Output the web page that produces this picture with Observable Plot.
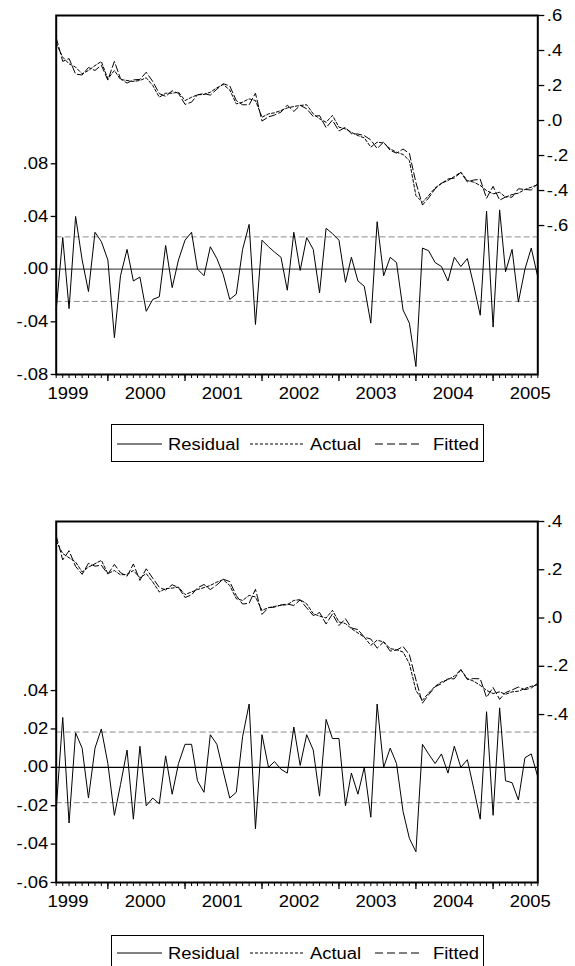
<!DOCTYPE html>
<html><head><meta charset="utf-8">
<script src="https://cdn.jsdelivr.net/npm/d3@7"></script>
<script src="https://cdn.jsdelivr.net/npm/@observablehq/plot@0.6"></script>
<style>
body{margin:0;background:#fff;}
#root{position:relative;width:575px;height:966px;overflow:hidden;font-family:"Liberation Sans",Arial,sans-serif;}
.layer{position:absolute;left:0;}
</style></head><body><div id="root"></div>
<script>
// Observations: monthly, 1999M05 .. 2005M08 (76 obs)
const periodStart = "1999-05-01", periodEnd = "2005-08-01";
const years = [1999, 2000, 2001, 2002, 2003, 2004, 2005];

// Panel 1
const resid1 = [
 -0.031,0.024,-0.030,0.040,0.007,-0.017,0.028,0.021,0.007,-0.052,
 -0.005,0.015,-0.009,-0.006,-0.032,-0.023,-0.021,0.018,-0.014,0.007,
 0.022,0.028,0.000,-0.005,0.017,0.008,-0.004,-0.023,-0.019,0.015,
 0.034,-0.042,0.022,0.017,0.013,0.009,-0.016,0.028,-0.001,0.024,
 0.015,-0.018,0.031,0.027,0.022,-0.010,0.009,-0.009,-0.013,-0.041,
 0.036,-0.005,0.009,0.005,-0.031,-0.041,-0.074,0.016,0.014,0.005,
 0.002,-0.009,0.009,0.002,0.008,-0.012,-0.035,0.044,-0.044,0.045,
 -0.002,0.015,-0.025,0.000,0.016,-0.006];
const actual1 = [
 0.442,0.362,0.324,0.305,0.267,0.286,0.314,0.337,0.238,0.286,
 0.234,0.229,0.223,0.229,0.244,0.200,0.133,0.156,0.156,0.162,
 0.114,0.133,0.147,0.149,0.162,0.187,0.206,0.175,0.095,0.105,
 0.124,0.114,0.019,0.038,0.044,0.057,0.072,0.080,0.086,0.090,
 0.038,0.010,-0.010,0.029,-0.038,-0.048,-0.067,-0.086,-0.099,-0.152,
 -0.124,-0.128,-0.162,-0.181,-0.194,-0.229,-0.429,-0.467,-0.429,-0.385,
 -0.358,-0.343,-0.320,-0.295,-0.343,-0.352,-0.371,-0.400,-0.419,-0.410,
 -0.438,-0.423,-0.415,-0.394,-0.381,-0.366];
const fitted1 = [
 0.473,0.338,0.354,0.265,0.260,0.303,0.286,0.316,0.231,0.338,
 0.239,0.214,0.232,0.235,0.276,0.223,0.154,0.138,0.170,0.155,
 0.092,0.105,0.147,0.154,0.145,0.179,0.210,0.198,0.114,0.090,
 0.090,0.156,-0.003,0.021,0.031,0.048,0.088,0.052,0.087,0.067,
 0.023,0.028,-0.041,0.002,-0.060,-0.038,-0.076,-0.077,-0.086,-0.111,
 -0.160,-0.123,-0.171,-0.186,-0.163,-0.188,-0.355,-0.483,-0.443,-0.390,
 -0.360,-0.334,-0.329,-0.297,-0.351,-0.340,-0.336,-0.444,-0.376,-0.455,
 -0.437,-0.438,-0.390,-0.394,-0.397,-0.360];
const band1 = 0.0245;
const leftTicks1 = [0.08, 0.04, 0, -0.04, -0.08];
const rightTicks1 = [0.6, 0.4, 0.2, 0, -0.2, -0.4, -0.6];

// Panel 2
const resid2 = [
 -0.022,0.026,-0.029,0.018,0.010,-0.016,0.010,0.020,0.002,-0.025,
 -0.009,0.009,-0.027,0.011,-0.020,-0.016,-0.019,0.006,-0.014,0.002,
 0.012,0.012,-0.007,-0.013,0.017,0.012,-0.002,-0.016,-0.013,0.016,
 0.033,-0.032,0.017,0.000,0.003,-0.001,-0.003,0.021,0.001,0.017,
 0.009,-0.015,0.025,0.015,0.015,-0.020,-0.003,-0.014,0.000,-0.026,
 0.033,0.000,0.010,0.002,-0.023,-0.037,-0.044,0.012,0.007,0.002,
 0.007,-0.003,0.011,0.000,0.004,-0.011,-0.027,0.029,-0.025,0.031,
 -0.007,-0.008,-0.017,0.005,0.007,-0.005];
const actual2 = [
 0.319,0.267,0.250,0.232,0.191,0.211,0.225,0.239,0.184,0.197,
 0.179,0.181,0.197,0.167,0.184,0.149,0.108,0.122,0.124,0.128,
 0.097,0.108,0.118,0.126,0.135,0.149,0.159,0.135,0.080,0.073,
 0.094,0.087,0.032,0.043,0.048,0.053,0.055,0.073,0.076,0.059,
 0.018,0.008,0.000,0.032,-0.016,-0.023,-0.044,-0.062,-0.079,-0.113,
 -0.092,-0.099,-0.127,-0.131,-0.141,-0.189,-0.300,-0.341,-0.311,-0.283,
 -0.265,-0.255,-0.241,-0.214,-0.251,-0.262,-0.279,-0.300,-0.313,-0.306,
 -0.316,-0.306,-0.303,-0.292,-0.283,-0.276];
const fitted2 = [
 0.341,0.241,0.279,0.214,0.181,0.227,0.215,0.219,0.182,0.222,
 0.188,0.173,0.224,0.156,0.204,0.165,0.127,0.116,0.138,0.126,
 0.085,0.096,0.125,0.139,0.118,0.137,0.161,0.151,0.093,0.058,
 0.061,0.119,0.015,0.043,0.045,0.054,0.058,0.052,0.075,0.042,
 0.010,0.023,-0.025,0.017,-0.031,-0.003,-0.041,-0.048,-0.079,-0.087,
 -0.125,-0.099,-0.137,-0.133,-0.118,-0.152,-0.256,-0.353,-0.318,-0.285,
 -0.272,-0.252,-0.252,-0.214,-0.255,-0.251,-0.252,-0.329,-0.288,-0.337,
 -0.309,-0.298,-0.286,-0.297,-0.290,-0.270];
const band2 = 0.0184;
const leftTicks2 = [0.04, 0.02, 0, -0.02, -0.04, -0.06];
const rightTicks2 = [0.4, 0.2, 0, -0.2, -0.4];

const legendLabels = ["Residual", "Actual", "Fitted"];

// ---------- rendering ----------
const FONT = '"Liberation Sans", Arial, sans-serif';
const FS = 16;          // font size
const SX = 1.15;        // horizontal stretch of text (reference text is wide)
const W = 575, ML = 55.7, MR = 575 - 537.3, MT = 15;

const loc = d3.formatLocale({decimal: ".", thousands: ",", grouping: [3], currency: ["", ""], minus: "-"});
const months = d3.utcMonth.range(new Date(periodStart), d3.utcMonth.offset(new Date(periodEnd), 1));
const yearStarts = years.map(y => new Date(Date.UTC(y, 0, 1))).filter(d => d > months[0]);
const yearMids = years.map(y => new Date(Date.UTC(y, 5, 26)));
const stripZero = f => d => f(d).replace(/^(-?)0\./, "$1.");

function stretch(el) {
  el.querySelectorAll("text").forEach(t => {
    const L = t.getComputedTextLength();
    if (L > 0) { t.setAttribute("textLength", L * SX); t.setAttribute("lengthAdjust", "spacingAndGlyphs"); }
  });
}

const root = document.getElementById("root");

function panel({top, height, plotH, yLeft, yRight, leftTicks, rightTicks, lfmt, rfmt, resid, actual, fitted, band, zeroStroke}) {
  const common = {
    width: W, height, marginLeft: ML, marginRight: MR, marginTop: MT, marginBottom: height - MT - plotH,
    style: {fontFamily: FONT, fontSize: FS + "px", background: "transparent", color: "#000", overflow: "visible"}
  };
  const x = {type: "utc", domain: [months[0], months[months.length - 1]]};
  const rows = months.map((d, i) => ({date: d, resid: resid[i], actual: actual[i], fitted: fitted[i]}));
  const left = Plot.plot({
    ...common, x, y: {domain: yLeft},
    marks: [
      Plot.ruleY([band, -band], {stroke: "#8c8c8c", strokeDasharray: "6,3", strokeWidth: 1}),
      Plot.ruleY([0], {stroke: zeroStroke, strokeWidth: 1.3}),
      Plot.lineY(rows, {x: "date", y: "resid", stroke: "#000", strokeWidth: 1}),
      Plot.axisY(leftTicks, {anchor: "left", tickSize: 5, tickPadding: 3, tickFormat: lfmt, label: null, strokeWidth: 1.3}),
      Plot.axisX(months, {anchor: "bottom", tickSize: 4, tickFormat: () => "", label: null}),
      Plot.axisX(yearStarts, {anchor: "bottom", tickSize: 7, tickFormat: () => "", label: null, strokeWidth: 1.3}),
      Plot.axisX(yearMids, {anchor: "bottom", tickSize: 0, tickPadding: 13, tickFormat: d => String(d.getUTCFullYear()), label: null})
    ]
  });
  const right = Plot.plot({
    ...common, x: {...x, axis: null}, y: {domain: yRight},
    marks: [
      Plot.lineY(rows, {x: "date", y: "actual", stroke: "#000", strokeWidth: 1, strokeDasharray: "3,2"}),
      Plot.lineY(rows, {x: "date", y: "fitted", stroke: "#000", strokeWidth: 1, strokeDasharray: "7,3"}),
      Plot.axisY(rightTicks, {anchor: "right", tickSize: 6, tickPadding: 3, tickFormat: rfmt, label: null, strokeWidth: 1.3}),
      Plot.frame({stroke: "#000", strokeWidth: 2})
    ]
  });
  for (const p of [left, right]) {
    p.classList.add("layer");
    p.style.top = top + "px";
    root.appendChild(p);
    stretch(p);
  }
}

function legend({left, top, width, height, cy}) {
  const svg = d3.create("svg").attr("class", "layer").attr("width", width).attr("height", height)
    .style("left", left + "px").style("top", top + "px").style("overflow", "visible");
  svg.append("rect").attr("x", 0.5).attr("y", 0.5).attr("width", width - 1).attr("height", height - 1)
    .attr("fill", "#fff").attr("stroke", "#000").attr("stroke-width", 1);
  const items = [
    {x1: 6, x2: 51, dash: null, tx: 57},
    {x1: 139, x2: 194, dash: "3,2", tx: 199},
    {x1: 264, x2: 309, dash: "8,4", tx: 322}
  ];
  items.forEach((it, i) => {
    const l = svg.append("line").attr("x1", it.x1).attr("x2", it.x2).attr("y1", cy).attr("y2", cy).attr("stroke", "#000").attr("stroke-width", 1);
    if (it.dash) l.attr("stroke-dasharray", it.dash);
    svg.append("text").attr("x", it.tx).attr("y", cy).attr("dy", "0.35em")
      .attr("font-family", FONT).attr("font-size", FS).text(legendLabels[i]);
  });
  root.appendChild(svg.node());
  stretch(svg.node());
}

panel({top: 0, height: 410, plotH: 359, yLeft: [-0.08, 0.1926], yRight: [-1.451, 0.6],
  leftTicks: leftTicks1, rightTicks: rightTicks1, lfmt: stripZero(loc.format(".2f")), rfmt: stripZero(loc.format(".1f")),
  resid: resid1, actual: actual1, fitted: fitted1, band: band1, zeroStroke: "#555"});
legend({left: 111, top: 424, width: 373, height: 38, cy: 20});

panel({top: 506, height: 411, plotH: 361, yLeft: [-0.06, 0.1281], yRight: [-1.096, 0.4],
  leftTicks: leftTicks2, rightTicks: rightTicks2, lfmt: stripZero(loc.format(".2f")), rfmt: stripZero(loc.format(".1f")),
  resid: resid2, actual: actual2, fitted: fitted2, band: band2, zeroStroke: "#000"});
legend({left: 111, top: 935, width: 373, height: 38, cy: 18});
</script></body></html>
